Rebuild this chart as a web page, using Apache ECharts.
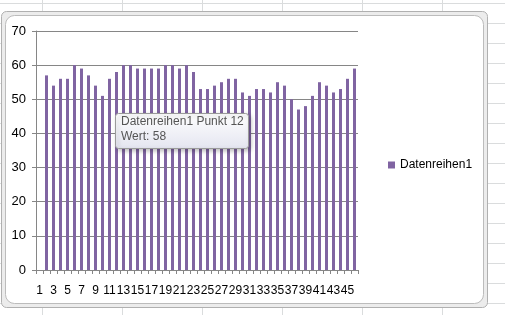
<!DOCTYPE html>
<html>
<head>
<meta charset="utf-8">
<script src="https://cdn.jsdelivr.net/npm/echarts@6/dist/echarts.min.js"></script>
<style>
html,body{margin:0;padding:0;background:#fff;}
#c{width:505px;height:315px;}
</style>
</head>
<body>
<div id="c"></div>
<script>
var categories = ['1','2','3','4','5','6','7','8','9','10','11','12','13','14','15','16','17','18','19','20','21','22','23','24','25','26','27','28','29','30','31','32','33','34','35','36','37','38','39','40','41','42','43','44','45','46'];
var seriesName = 'Datenreihen1';
var values = [null,57,54,56,56,60,59,57,54,51,56,58,60,60,59,59,59,59,60,60,59,60,58,53,53,54,55,56,56,52,51,53,53,52,55,54,50,47,48,51,55,54,52,53,56,59];
var yTicks = [0,10,20,30,40,50,60,70];
var tipLine1 = 'Datenreihen1 Punkt 12';
var tipLine2 = 'Wert: 58';

var chart = echarts.init(document.getElementById('c'), null, {renderer:'canvas'});

var bg = [];
// spreadsheet gridlines
[42,122,202,282,362,442].forEach(function(x){
  bg.push({type:'line', shape:{x1:x+0.5,y1:0,x2:x+0.5,y2:315}, style:{stroke:'#dadcdd',lineWidth:1}, z:-10});
});
for (var y=3; y<315; y+=20){
  bg.push({type:'line', shape:{x1:0,y1:y+0.5,x2:505,y2:y+0.5}, style:{stroke:'#dadcdd',lineWidth:1}, z:-10});
}
// chart frame
bg.push({type:'rect', shape:{x:1.5,y:11.5,width:486,height:296,r:5}, style:{fill:'#ececec',stroke:'#b0b0b0',lineWidth:1}, z:-9});
bg.push({type:'rect', shape:{x:5.5,y:15.5,width:478,height:288,r:9}, style:{fill:'#ffffff',stroke:'#bcbcbc',lineWidth:1}, z:-8});

// tooltip-like box
bg.push({type:'rect', shape:{x:115.5,y:113.5,width:133,height:35,r:3},
  style:{fill:new echarts.graphic.LinearGradient(0,0,0,1,[{offset:0,color:'#ffffff'},{offset:1,color:'#e4e5f0'}]),
    stroke:'#9a9a9a',lineWidth:1,shadowBlur:4,shadowOffsetX:2,shadowOffsetY:2,shadowColor:'rgba(0,0,0,0.25)'}, z:100});
bg.push({type:'text', x:121, y:116, style:{text:tipLine1, fill:'#555555', font:'12px "Liberation Sans", sans-serif'}, z:101});
bg.push({type:'text', x:121, y:131, style:{text:tipLine2, fill:'#555555', font:'12px "Liberation Sans", sans-serif'}, z:101});

chart.setOption({
  animation:false,
  backgroundColor:'transparent',
  graphic: bg,
  grid:{left:36, right:147, top:31, bottom:45, containLabel:false},
  legend:{
    show:true, data:[seriesName], left:383, top:154, orient:'vertical',
    icon:'rect', itemWidth:7, itemHeight:7, itemGap:4,
    textStyle:{color:'#000', fontSize:12, fontFamily:'"Liberation Sans", sans-serif'}
  },
  xAxis:{
    type:'category', data:categories, boundaryGap:true,
    axisLine:{show:true, lineStyle:{color:'#868686', width:1}},
    axisTick:{show:true, interval:0, length:4, lineStyle:{color:'#868686'}},
    axisLabel:{interval:1, color:'#000', fontSize:12, fontFamily:'"Liberation Sans", sans-serif', margin:15},
    splitLine:{show:false}
  },
  yAxis:{
    type:'value', min:0, max:70, interval:10,
    axisLine:{show:true, lineStyle:{color:'#868686', width:1}},
    axisTick:{show:true, length:4, lineStyle:{color:'#868686'}},
    axisLabel:{color:'#000', fontSize:13, fontFamily:'"Liberation Sans", sans-serif', margin:10,
      formatter:function(v){ return yTicks.indexOf(v) >= 0 ? String(v) : ''; }},
    splitLine:{show:true, lineStyle:{color:'#868686', width:1}}
  },
  series:[{
    name:seriesName, type:'bar', data:values, barWidth:3,
    itemStyle:{color:'#8064a2'}
  }]
});
</script>
</body>
</html>
